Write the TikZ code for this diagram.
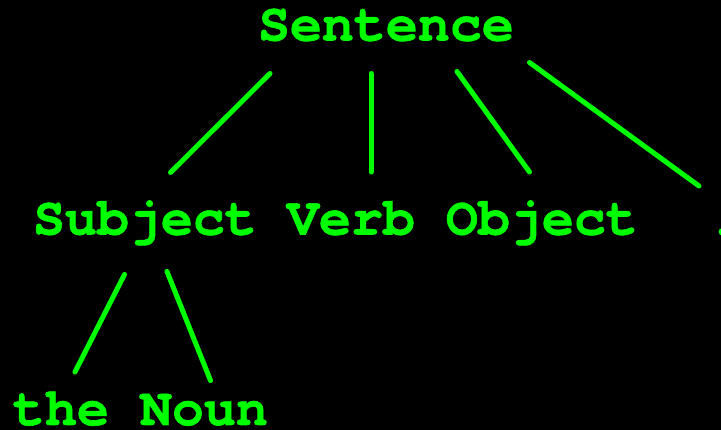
\documentclass[tikz,border=0pt]{standalone}
\usepackage{fontspec}
\setmonofont{TeX Gyre Cursor}[BoldFeatures={FakeBold=1.2}]
\definecolor{termgreen}{HTML}{00FF00}
\tikzset{
  word/.style={anchor=base west, inner sep=0pt, outer sep=0pt, text=termgreen,
    font=\ttfamily\bfseries\fontsize{53.3}{60}\selectfont},
  branch/.style={draw=termgreen, line width=5pt, line cap=round}
}
\begin{document}
\begin{tikzpicture}[x=1pt,y=-1pt]
\fill[black] (0,0) rectangle (721,430);
\useasboundingbox (0,0) rectangle (721,430);
% words
\node[word] (sentence) at (258,40.5) {Sentence};
\node[word] (subject) at (33,234.5) {Subject};
\node[word] (verb) at (287,234.5) {Verb};
\node[word] (object) at (446,234.5) {Object};
\node[word] (period) at (707,234.5) {.};
\node[word] (the) at (13,425) {the};
\node[word] (noun) at (140,425) {Noun};
% connector ends
\coordinate (sA) at (270,73.5);
\coordinate (sB) at (371,73.5);
\coordinate (sC) at (457,71.5);
\coordinate (sD) at (529.5,62.5);
\coordinate (subA) at (124.5,274.5);
\coordinate (subB) at (167,271.5);
\coordinate (subjTop) at (170.5,172.5);
\coordinate (verbTop) at (371,172);
\coordinate (objTop) at (529.5,172);
\coordinate (perTop) at (699,186);
\coordinate (theTop) at (75,372);
\coordinate (nounTop) at (210.5,380.5);
% connectors
\draw[branch] (sA) -- (subjTop);
\draw[branch] (sB) -- (verbTop);
\draw[branch] (sC) -- (objTop);
\draw[branch] (sD) -- (perTop);
\draw[branch] (subA) -- (theTop);
\draw[branch] (subB) -- (nounTop);
\end{tikzpicture}
\end{document}
